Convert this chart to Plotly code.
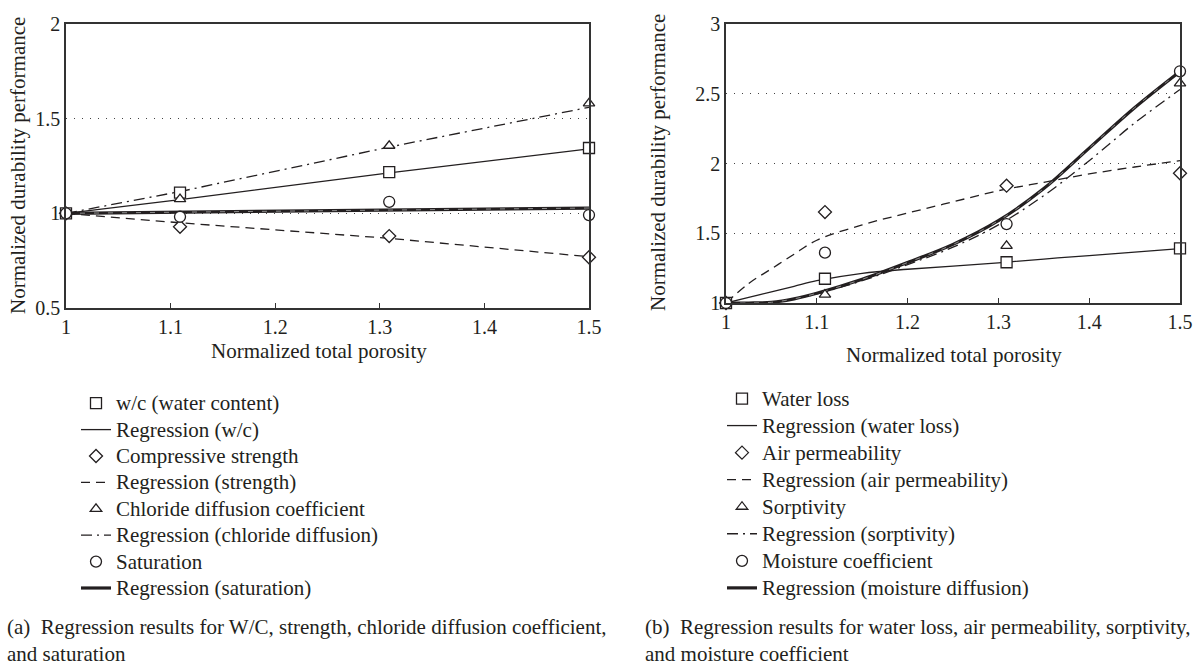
import plotly.graph_objects as go

# ---------------- data: panel (a) ----------------
xa_pts = [1.0, 1.109, 1.309, 1.5]
wc_pts = [1.0, 1.109, 1.218, 1.345]
strength_pts = [1.0, 0.929, 0.88, 0.768]
chloride_pts = [1.0, 1.075, 1.357, 1.581]
saturation_pts = [1.0, 0.982, 1.061, 0.991]

wc_reg = [1.0, 1.072, 1.214, 1.34]
strength_reg = [1.0, 0.95, 0.868, 0.771]
chloride_reg = [1.0, 1.115, 1.35, 1.56]
saturation_reg = [1.0, 1.006, 1.017, 1.028]

# ---------------- data: panel (b) ----------------
xb_pts = [1.0, 1.109, 1.309, 1.5]
waterloss_pts = [1.0, 1.174, 1.292, 1.392]
airperm_pts = [1.0, 1.652, 1.841, 1.93]
sorptivity_pts = [1.0, 1.06, 1.41, 2.575]
moisture_pts = [1.0, 1.361, 1.566, 2.661]

xb_reg = [1.0, 1.025, 1.05, 1.075, 1.1, 1.15, 1.2, 1.25, 1.3, 1.35, 1.4, 1.45, 1.5]
waterloss_reg = [1.0, 1.04, 1.08, 1.12, 1.16, 1.213, 1.242, 1.265, 1.288, 1.315, 1.34, 1.365, 1.39]
airperm_reg = [1.0, 1.14, 1.245, 1.35, 1.45, 1.56, 1.645, 1.725, 1.805, 1.865, 1.925, 1.975, 2.02]
sorptivity_reg = [1.0, 1.0, 1.005, 1.03, 1.065, 1.16, 1.275, 1.40, 1.56, 1.77, 2.02, 2.29, 2.53]
moisture_reg = [1.0, 1.0, 1.005, 1.03, 1.07, 1.17, 1.29, 1.42, 1.59, 1.82, 2.11, 2.40, 2.66]

x_ticks = [1, 1.1, 1.2, 1.3, 1.4, 1.5]
x_ticktext = ["1", "1.1", "1.2", "1.3", "1.4", "1.5"]
ya_ticks = [0.5, 1, 1.5, 2]
ya_ticktext = ["0.5", "1", "1.5", "2"]
yb_ticks = [1, 1.5, 2, 2.5, 3]
yb_ticktext = ["1", "1.5", "2", "2.5", "3"]

FONT = "Liberation Serif"
INK = "#231f20"
W, H = 1201, 665
LEG_TXT = 21

fig = go.Figure()


def lbl(s):
    return '<span style="font-size:%dpx">%s</span>' % (LEG_TXT, s)


def add_markers(x, y, name, symbol, size, xa, ya, legend):
    fig.add_trace(go.Scatter(
        x=x, y=y, mode="markers", name=lbl(name), xaxis=xa, yaxis=ya, legend=legend,
        cliponaxis=False,
        marker=dict(symbol=symbol, size=size, color="white",
                    line=dict(color=INK, width=1.3)),
    ))


def add_line(x, y, name, dash, width, xa, ya, legend, shape="linear"):
    fig.add_trace(go.Scatter(
        x=x, y=y, mode="lines", name=lbl(name), xaxis=xa, yaxis=ya, legend=legend,
        cliponaxis=False,
        line=dict(color=INK, width=width, dash=dash, shape=shape),
    ))


def add_thick_overlay(x, y, xa, ya, shape="linear"):
    # light dashes running inside the thick regression line, as in the print
    fig.add_trace(go.Scatter(
        x=x, y=y, mode="lines", xaxis=xa, yaxis=ya, showlegend=False, hoverinfo="skip",
        cliponaxis=False,
        line=dict(color="#9a9a9a", width=0.9, dash="5px,9px", shape=shape),
    ))


DASH = "9px,6px"
DASHDOT = "11px,5px,2px,5px"

# panel (a)
add_line(xa_pts, wc_reg, "Regression (w/c)", "solid", 1.3, "x", "y", "legend")
add_line(xa_pts, strength_reg, "Regression (strength)", DASH, 1.3, "x", "y", "legend")
add_line(xa_pts, chloride_reg, "Regression (chloride diffusion)", DASHDOT, 1.3, "x", "y", "legend")
add_line(xa_pts, saturation_reg, "Regression (saturation)", "solid", 3.2, "x", "y", "legend")
add_thick_overlay(xa_pts, saturation_reg, "x", "y")
add_markers(xa_pts, wc_pts, "w/c (water content)", "square", 11, "x", "y", "legend")
add_markers(xa_pts, strength_pts, "Compressive strength", "diamond", 10, "x", "y", "legend")
add_markers(xa_pts, chloride_pts, "Chloride diffusion coefficient", "triangle-up", 10, "x", "y", "legend")
add_markers(xa_pts, saturation_pts, "Saturation", "circle", 11, "x", "y", "legend")

# panel (b)
add_line(xb_reg, waterloss_reg, "Regression (water loss)", "solid", 1.3, "x2", "y2", "legend2", "spline")
add_line(xb_reg, airperm_reg, "Regression (air permeability)", DASH, 1.3, "x2", "y2", "legend2", "spline")
add_line(xb_reg, sorptivity_reg, "Regression (sorptivity)", DASHDOT, 1.3, "x2", "y2", "legend2", "spline")
add_line(xb_reg, moisture_reg, "Regression (moisture diffusion)", "solid", 3.2, "x2", "y2", "legend2", "spline")
add_thick_overlay(xb_reg, moisture_reg, "x2", "y2", "spline")
add_markers(xb_pts, waterloss_pts, "Water loss", "square", 11, "x2", "y2", "legend2")
add_markers(xb_pts, airperm_pts, "Air permeability", "diamond", 10, "x2", "y2", "legend2")
add_markers(xb_pts, sorptivity_pts, "Sorptivity", "triangle-up", 10, "x2", "y2", "legend2")
add_markers(xb_pts, moisture_pts, "Moisture coefficient", "circle", 11, "x2", "y2", "legend2")

# legend order as in the reference: marker, regression, marker, regression ...
order_a = ["w/c (water content)", "Regression (w/c)", "Compressive strength", "Regression (strength)",
           "Chloride diffusion coefficient", "Regression (chloride diffusion)", "Saturation",
           "Regression (saturation)"]
order_b = ["Water loss", "Regression (water loss)", "Air permeability", "Regression (air permeability)",
           "Sorptivity", "Regression (sorptivity)", "Moisture coefficient", "Regression (moisture diffusion)"]
for tr in fig.data:
    for order in (order_a, order_b):
        for i, nm in enumerate(order):
            if tr.name == lbl(nm):
                tr.legendrank = 100 + i

tickfont = dict(family=FONT, size=20, color=INK)
axis_common = dict(showline=True, linecolor="#333333", linewidth=1.5, mirror=True,
                   zeroline=False, tickfont=tickfont, automargin=False)
GRID = dict(showgrid=True, griddash="1px,7px", gridcolor="#444444", gridwidth=1)

fig.update_layout(
    template="none",
    width=W, height=H,
    margin=dict(l=0, r=0, t=0, b=0, autoexpand=False),
    paper_bgcolor="white", plot_bgcolor="white",
    font=dict(family=FONT, size=18, color=INK),
    xaxis=dict(domain=[66 / W, 589 / W], range=[1, 1.5], tickvals=x_ticks, ticktext=x_ticktext,
               ticks="inside", ticklen=5, tickcolor="#333333", showgrid=False, anchor="y",
               **axis_common),
    yaxis=dict(domain=[1 - 308 / H, 1 - 24 / H], range=[0.5, 2], tickvals=ya_ticks, ticktext=ya_ticktext,
               ticks="", anchor="x", **GRID, **axis_common),
    xaxis2=dict(domain=[726 / W, 1180 / W], range=[1, 1.5], tickvals=x_ticks, ticktext=x_ticktext,
                ticks="inside", ticklen=5, tickcolor="#333333", showgrid=False, anchor="y2",
                **axis_common),
    yaxis2=dict(domain=[1 - 303 / H, 1 - 24 / H], range=[1, 3], tickvals=yb_ticks, ticktext=yb_ticktext,
                ticks="", anchor="x2", **GRID, **axis_common),
    legend=dict(x=76 / W, y=1 - 385 / H, xanchor="left", yanchor="top", traceorder="normal",
                font=dict(family=FONT, size=18, color=INK), bgcolor="rgba(0,0,0,0)",
                borderwidth=0),
    legend2=dict(x=722 / W, y=1 - 380 / H, xanchor="left", yanchor="top", traceorder="normal",
                 font=dict(family=FONT, size=18.5, color=INK), bgcolor="rgba(0,0,0,0)",
                 borderwidth=0),
    showlegend=True,
)

ann_font = dict(family=FONT, size=21, color=INK)
cap_font = dict(family=FONT, size=21, color=INK)
annotations = [
    dict(text="Normalized durability performance", x=18 / W, y=1 - 166 / H, textangle=-90,
         xref="paper", yref="paper", showarrow=False, font=ann_font, xanchor="center", yanchor="middle"),
    dict(text="Normalized durability performance", x=658 / W, y=1 - 163 / H, textangle=-90,
         xref="paper", yref="paper", showarrow=False, font=ann_font, xanchor="center", yanchor="middle"),
    dict(text="Normalized total porosity", x=319 / W, y=1 - 351 / H,
         xref="paper", yref="paper", showarrow=False, font=ann_font, xanchor="center", yanchor="middle"),
    dict(text="Normalized total porosity", x=954 / W, y=1 - 355 / H,
         xref="paper", yref="paper", showarrow=False, font=ann_font, xanchor="center", yanchor="middle"),
    dict(text="(a)\u00a0 Regression results for W/C, strength, chloride diffusion coefficient,<br>and saturation",
         x=5 / W, y=1 - 640 / H, xref="paper", yref="paper", showarrow=False, font=cap_font,
         xanchor="left", yanchor="middle", align="left"),
    dict(text="(b)\u00a0 Regression results for water loss, air permeability, sorptivity,<br>and moisture coefficient",
         x=643 / W, y=1 - 640 / H, xref="paper", yref="paper", showarrow=False, font=cap_font,
         xanchor="left", yanchor="middle", align="left"),
]
fig.update_layout(annotations=annotations)

fig.write_html("out.html", config={"displayModeBar": False},
               post_script="document.body.style.margin='0px';document.body.style.overflow='hidden';")
